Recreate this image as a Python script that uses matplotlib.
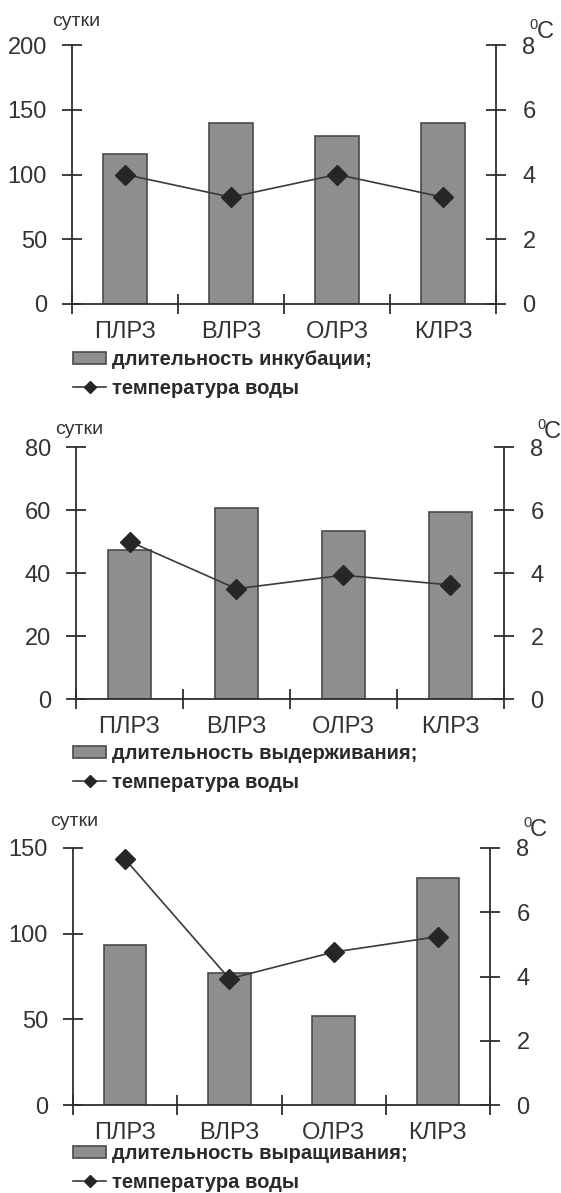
import matplotlib.pyplot as plt
from matplotlib.patches import Patch
from matplotlib.lines import Line2D

plt.rcParams['font.family'] = ['Liberation Sans', 'DejaVu Sans']

zavody = ['ПЛРЗ', 'ВЛРЗ', 'ОЛРЗ', 'КЛРЗ']

# инкубация
inkubaciya = [116, 140, 129.5, 140]
temp_inkub = [4.0, 3.3, 4.0, 3.3]

# выдерживание
vyderzh = [47.3, 60.5, 53.4, 59.3]
temp_vyderzh = [5.0, 3.5, 3.93, 3.62]

# выращивание
vyrash = [93.2, 77, 52, 132.7]
temp_vyrash = [7.65, 3.93, 4.76, 5.24]

W, H = 561, 1193
fig = plt.figure(figsize=(W / 100, H / 100), dpi=100)

BAR = '#8e8e8e'
EDGE = '#4a4a4a'
LINE = '#3a3a3a'
AX = '#2e2e2e'


def rect(l, t, r, b):
    return [l / W, 1 - b / H, (r - l) / W, (b - t) / H]


def panel(box, dni, temp, ymax, ystep, label, sut, c0, cc, leg_top):
    ax = fig.add_axes(rect(*box))
    x = [i + 0.5 for i in range(len(zavody))]
    ax.bar(x, dni, width=0.41, color=BAR, edgecolor=EDGE, linewidth=1.2, zorder=2)
    ax.set_xlim(0, 4)
    ax.set_ylim(0, ymax)
    ax.set_yticks(range(0, ymax + 1, ystep))
    ax.set_xticks(range(5))
    ax.set_xticklabels([])
    ax.set_xticks(x, minor=True)
    ax.set_xticklabels(zavody, minor=True, fontsize=17, color='#333333')
    ax.tick_params(axis='x', which='minor', length=0, pad=12)
    ax.tick_params(axis='x', which='major', direction='inout', length=14, width=1.3, color=AX)
    ax.tick_params(axis='y', direction='inout', length=14, width=1.3, color=AX,
                   labelsize=17, labelcolor='#333333', pad=11)
    for s in ['top', 'right']:
        ax.spines[s].set_visible(False)
    for s in ['left', 'bottom']:
        ax.spines[s].set_linewidth(1.3)
        ax.spines[s].set_color(AX)

    ax2 = ax.twinx()
    ax2.plot(x, temp, color=LINE, linewidth=1.2, marker='D', markersize=10,
             markerfacecolor='#262626', markeredgecolor='#262626', zorder=3)
    ax2.set_ylim(0, 8)
    ax2.set_yticks(range(0, 9, 2))
    for s in ['top', 'left', 'bottom']:
        ax2.spines[s].set_visible(False)
    ax2.spines['right'].set_linewidth(1.3)
    ax2.spines['right'].set_color(AX)
    ax2.tick_params(axis='y', direction='inout', length=14, width=1.3, color=AX,
                    labelsize=17, labelcolor='#333333', pad=12)

    fig.text(sut[0] / W, 1 - sut[1] / H, 'сутки', fontsize=14,
             ha='center', va='center', color='#333333')
    fig.text(c0[0] / W, 1 - c0[1] / H, '0', fontsize=10.5,
             ha='center', va='center', color='#333333')
    fig.text(cc[0] / W, 1 - cc[1] / H, 'C', fontsize=17,
             ha='center', va='center', color='#333333')

    handles = [Patch(facecolor=BAR, edgecolor=EDGE, linewidth=1.2),
               Line2D([0], [0], color=LINE, linewidth=1.2, marker='D', markersize=6,
                      markerfacecolor='#262626', markeredgecolor='#262626')]
    fig.legend(handles, [label, 'температура воды'], loc='upper left',
               bbox_to_anchor=(73 / W, 1 - leg_top / H), frameon=False,
               borderpad=0, borderaxespad=0, handlelength=1.65, handleheight=0.6,
               handletextpad=0.3, labelspacing=0.5,
               prop={'size': 14.5, 'weight': 'bold'}, labelcolor='#2a2a2a')


panel((72, 45, 496, 304), inkubaciya, temp_inkub, 200, 50,
      'длительность инкубации;', (76, 22), (534, 25), (545, 32), 350)
panel((76, 447, 504, 699), vyderzh, temp_vyderzh, 80, 20,
      'длительность выдерживания;', (79, 430), (541, 425), (552, 432), 744)
panel((73, 848, 490, 1105), vyrash, temp_vyrash, 150, 50,
      'длительность выращивания;', (74, 822), (527, 823), (538, 830), 1144)

plt.savefig('out.png', dpi=100)
